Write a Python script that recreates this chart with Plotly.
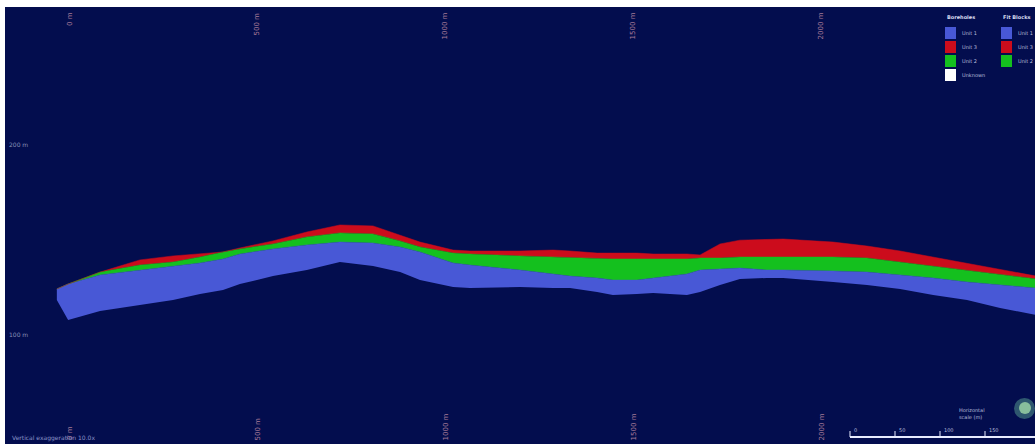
import plotly.graph_objects as go

# Section stations along the profile (distance in metres)
distance_m = [-35, -5, 80, 186, 274, 346, 407, 452, 540, 630,
              718, 806, 878, 931, 1019, 1064, 1197, 1285, 1330, 1402,
              1444, 1508, 1551, 1641, 1676, 1729, 1782, 1854, 1897, 2030,
              2120, 2208, 2296, 2386, 2474, 2570]

# Elevation of unit boundaries (m)
unit1_base = [118.4, 107.9, 112.6, 115.8, 118.4, 121.6, 123.7, 126.8, 131.0, 134.2,
              138.4, 136.3, 133.1, 128.9, 125.3, 124.7, 125.3, 124.7, 124.7, 122.6,
              121.1, 121.6, 122.1, 121.1, 122.6, 126.3, 129.5, 130.0, 130.0, 127.9,
              126.3, 124.2, 121.1, 118.4, 114.2, 110.5]
unit1_top = [124.2, 126.8, 131.6, 134.2, 136.3, 137.9, 140.0, 142.6, 145.3, 147.4,
             148.9, 148.4, 146.3, 143.7, 137.9, 136.8, 134.2, 132.1, 131.0, 130.0,
             128.9, 128.9, 130.0, 132.1, 134.2, 134.7, 135.2, 134.2, 134.2, 133.7,
             133.1, 131.6, 130.0, 127.9, 126.3, 124.7]
unit2_top = [124.2, 126.8, 133.1, 136.8, 138.4, 141.0, 143.7, 145.3, 147.9, 151.6,
             153.7, 153.2, 149.5, 146.3, 143.1, 142.6, 141.6, 141.0, 140.5, 140.0,
             140.0, 140.0, 140.0, 140.0, 140.5, 140.5, 141.0, 141.0, 141.0, 141.0,
             140.5, 138.4, 136.3, 134.2, 132.1, 129.5]
unit3_top = [124.2, 126.8, 133.1, 139.5, 141.6, 142.6, 143.7, 145.8, 149.5, 154.2,
             157.9, 157.4, 152.6, 148.9, 144.7, 144.2, 144.2, 144.7, 144.2, 143.1,
             143.1, 143.1, 142.6, 142.6, 142.1, 147.9, 149.9, 150.5, 150.5, 148.9,
             146.8, 144.2, 141.0, 137.9, 134.7, 131.0]

unit_names = ["Unit 1", "Unit 2", "Unit 3"]
unit_colors = ["#4858d6", "#14c01e", "#cc0c1c"]

# legend entries: blue, red, green (+ white for unassigned holes)
legend_names = ["Unit 1", "Unit 3", "Unit 2"]
legend_colors = ["#4858d6", "#cc0c1c", "#14c01e"]

distance_ticks = [0, 500, 1000, 1500, 2000]
distance_tick_text = ["0 m", "500 m", "1000 m", "1500 m", "2000 m"]
elev_ticks = [200, 100]
elev_tick_text = ["200 m", "100 m"]

scale_labels = ["0", "50", "100", "150"]

BG = "#030d4e"
W, H = 1035, 444
ML, MT = 5, 7


def px(x):
    return (x - ML) / (W - ML)


def py(y):
    return (H - y) / (H - MT)


fig = go.Figure()

fig.add_trace(go.Scatter(x=distance_m, y=unit1_base, mode="lines",
                         line=dict(width=0, color=unit_colors[0]),
                         showlegend=False, hoverinfo="skip"))
for name, col, tops in zip(unit_names, unit_colors, [unit1_top, unit2_top, unit3_top]):
    fig.add_trace(go.Scatter(x=distance_m, y=tops, mode="lines", name=name,
                             line=dict(width=0.5, color=col),
                             fill="tonexty", fillcolor=col,
                             showlegend=False))

shapes = []
annotations = []

# distance markers along the top and bottom edges
for d, t in zip(distance_ticks, distance_tick_text):
    for yy, anchor in [(py(10), "top"), (py(442), "bottom")]:
        annotations.append(dict(x=d, xref="x", y=yy, yref="paper", text=t,
                                textangle=-90, showarrow=False,
                                xanchor="center", yanchor=anchor,
                                font=dict(family="DejaVu Sans", size=7, color="#a87c98")))

# elevation labels at the left edge
for e, t in zip(elev_ticks, elev_tick_text):
    annotations.append(dict(x=px(7), xref="paper", y=e, yref="y", text=t,
                            showarrow=False, xanchor="left", yanchor="middle",
                            font=dict(family="DejaVu Sans", size=6, color="#8a93b8")))

# legend block
legend_cols = [
    (945, "Boreholes", legend_names + ["Unknown"], legend_colors + ["#ffffff"]),
    (1001, "Fit Blocks", legend_names, legend_colors),
]
for x0, title, labels, cols in legend_cols:
    annotations.append(dict(x=px(x0), xref="paper", y=py(17), yref="paper",
                            text="<b>" + title + "</b>", showarrow=False,
                            xanchor="left", yanchor="middle",
                            font=dict(family="DejaVu Sans", size=5, color="#d8dcf0")))
    for i, (lab, c) in enumerate(zip(labels, cols)):
        yc = 33 + i * 14
        shapes.append(dict(type="rect", xref="paper", yref="paper",
                           x0=px(x0), x1=px(x0 + 11), y0=py(yc + 6), y1=py(yc - 6),
                           fillcolor=c, line=dict(width=0)))
        annotations.append(dict(x=px(x0 + 15), xref="paper", y=py(yc), yref="paper",
                                text=lab, showarrow=False, xanchor="left",
                                yanchor="middle",
                                font=dict(family="DejaVu Sans", size=5, color="#b8bedc")))

# footer text
annotations.append(dict(x=px(10), xref="paper", y=py(438), yref="paper",
                        text="Vertical exaggeration 10.0x", showarrow=False,
                        xanchor="left", yanchor="middle",
                        font=dict(family="DejaVu Sans", size=6, color="#8a93c8")))

# scale bar
bar_x0, bar_step = 850, 45
shapes.append(dict(type="line", xref="paper", yref="paper",
                   x0=px(bar_x0), x1=px(1035), y0=py(437), y1=py(437),
                   line=dict(color="#e8ecff", width=2)))
for i, lab in enumerate(scale_labels):
    xx = bar_x0 + i * bar_step
    shapes.append(dict(type="line", xref="paper", yref="paper",
                       x0=px(xx), x1=px(xx), y0=py(437), y1=py(431),
                       line=dict(color="#e8ecff", width=1)))
    annotations.append(dict(x=px(xx + 2), xref="paper", y=py(430), yref="paper",
                            text=lab, showarrow=False, xanchor="left",
                            yanchor="middle",
                            font=dict(family="DejaVu Sans", size=5, color="#b8bedc")))
annotations.append(dict(x=px(957), xref="paper", y=py(413), yref="paper",
                        text="Horizontal<br>scale (m)", showarrow=False,
                        xanchor="left", yanchor="middle", align="left",
                        font=dict(family="DejaVu Sans", size=5, color="#b8bedc")))

# orientation globe
shapes.append(dict(type="circle", xref="paper", yref="paper",
                   x0=px(1014), x1=px(1035), y0=py(419), y1=py(398),
                   fillcolor="#3a6a78", opacity=0.8, line=dict(width=0)))
shapes.append(dict(type="circle", xref="paper", yref="paper",
                   x0=px(1019), x1=px(1031), y0=py(414), y1=py(402),
                   fillcolor="#9fd8a8", opacity=0.8, line=dict(width=0)))

fig.update_layout(
    width=W, height=H,
    margin=dict(l=ML, r=0, t=MT, b=0),
    paper_bgcolor="#ffffff",
    plot_bgcolor=BG,
    xaxis=dict(range=[-172.9, 2566.9], showgrid=False, zeroline=False,
               showticklabels=False, ticks="", fixedrange=True),
    yaxis=dict(range=[42.63, 272.6], showgrid=False, zeroline=False,
               showticklabels=False, ticks="", fixedrange=True),
    shapes=shapes,
    annotations=annotations,
    showlegend=False,
)

fig.write_html("out.html", config={"displayModeBar": False})
